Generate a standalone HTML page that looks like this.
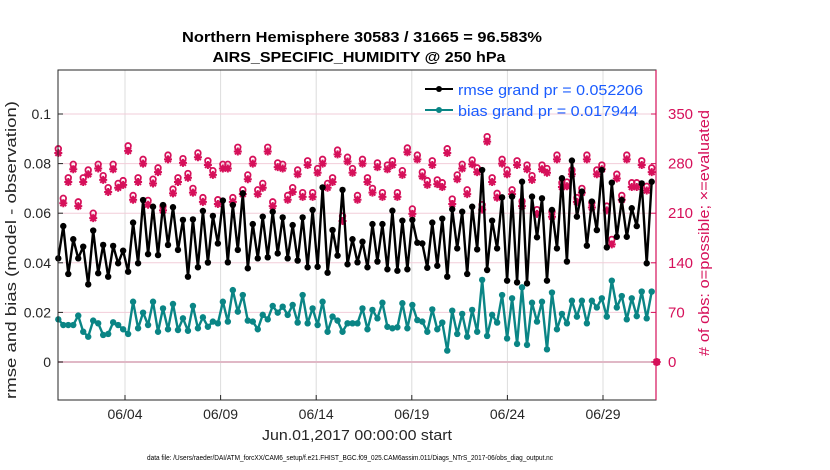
<!DOCTYPE html>
<html><head><meta charset="utf-8"><style>
body{margin:0;background:#fff;font-family:"Liberation Sans",Arial,sans-serif}
svg{display:block}
</style></head><body>
<svg id="chart" width="830" height="470" viewBox="0 0 830 470">
<text x="362" y="42" text-anchor="middle" font-size="15" font-weight="bold" textLength="360" lengthAdjust="spacingAndGlyphs">Northern Hemisphere 30583 / 31665 = 96.583%</text>
<text x="359" y="62" text-anchor="middle" font-size="15" font-weight="bold" textLength="293" lengthAdjust="spacingAndGlyphs">AIRS_SPECIFIC_HUMIDITY @ 250 hPa</text>
<rect x="58" y="70" width="598" height="330" fill="#fff"/>
<g id="grid"></g>
<g id="series"></g>
<rect x="58" y="70" width="598" height="330" fill="none" stroke="#262626" stroke-width="1"/>
<line x1="656" y1="70" x2="656" y2="400" stroke="#d6105a" stroke-width="1.2"/>
<g id="axes"></g>
<text transform="translate(16,250) rotate(-90)" text-anchor="middle" font-size="15" fill="#262626" textLength="298" lengthAdjust="spacingAndGlyphs">rmse and bias (model - observation)</text>
<text transform="translate(709,233) rotate(-90)" text-anchor="middle" font-size="15" fill="#d6105a" textLength="246" lengthAdjust="spacingAndGlyphs"># of obs: o=possible; ×=evaluated</text>
<text x="357" y="440" text-anchor="middle" font-size="15" fill="#262626" textLength="190" lengthAdjust="spacingAndGlyphs">Jun.01,2017 00:00:00 start</text>
<text x="350" y="460" text-anchor="middle" font-size="7" fill="#000" textLength="406" lengthAdjust="spacingAndGlyphs">data file: /Users/raeder/DAI/ATM_forcXX/CAM6_setup/f.e21.FHIST_BGC.f09_025.CAM6assim.011/Diags_NTrS_2017-06/obs_diag_output.nc</text>
<g>
<line x1="425" y1="89" x2="453" y2="89" stroke="#000" stroke-width="2"/>
<circle cx="439" cy="89" r="3" fill="#000"/>
<text x="458" y="95" font-size="15" fill="#1a5cff" textLength="185" lengthAdjust="spacingAndGlyphs">rmse grand pr = 0.052206</text>
<line x1="425" y1="110" x2="453" y2="110" stroke="#0a8585" stroke-width="2"/>
<circle cx="439" cy="110" r="3" fill="#0a8585"/>
<text x="458" y="116" font-size="15" fill="#1a5cff" textLength="180" lengthAdjust="spacingAndGlyphs">bias grand pr = 0.017944</text>
</g>
</svg>
<script>
const rmse=[0.0418,0.0548,0.0355,0.0495,0.0418,0.0465,0.0313,0.0530,0.0358,0.0472,0.0344,0.0468,0.0398,0.0449,0.0364,0.0562,0.0398,0.0653,0.0435,0.0626,0.0431,0.0633,0.0472,0.0624,0.0452,0.0573,0.0344,0.0575,0.0382,0.0609,0.0401,0.0589,
0.0478,0.0651,0.0402,0.0633,0.0452,0.0680,0.0378,0.0556,0.0418,0.0586,0.0422,0.0606,0.0438,0.0583,0.0418,0.0552,0.0409,0.0583,0.0382,0.0613,0.0384,0.0704,0.0360,0.0532,0.0429,0.0694,0.0394,0.0495,0.0402,0.0485,0.0382,
0.0556,0.0405,0.0556,0.0374,0.0610,0.0368,0.0570,0.0374,0.0573,0.0481,0.0478,0.0380,0.0562,0.0388,0.0578,0.0344,0.0616,0.0458,0.0606,0.0355,0.0626,0.0454,0.0774,0.0371,0.0570,0.0458,0.0664,0.0328,0.0667,
0.0321,0.0727,0.0317,0.0667,0.0503,0.0660,0.0328,0.0613,0.0458,0.0741,0.0405,0.0812,0.0586,0.0687,0.0469,0.0647,0.0532,0.0774,0.0462,0.0723,0.0505,0.0653,0.0505,0.0620,0.0548,0.0720,0.0398,0.0727];
const bias=[0.0172,0.0149,0.0149,0.0149,0.0187,0.0122,0.0102,0.0167,0.0156,0.0109,0.0113,0.0160,0.0149,0.0132,0.0113,0.0243,0.0136,0.0199,0.0149,0.0243,0.0122,0.0216,0.0132,0.0234,0.0129,0.0176,0.0126,0.0226,0.0136,0.0180,0.0142,0.0163,
0.0156,0.0243,0.0163,0.0290,0.0203,0.0270,0.0167,0.0163,0.0132,0.0190,0.0172,0.0226,0.0199,0.0223,0.0190,0.0230,0.0159,0.0270,0.0156,0.0216,0.0149,0.0243,0.0122,0.0183,0.0167,0.0122,0.0156,0.0156,0.0156,0.0216,0.0132,
0.0210,0.0176,0.0239,0.0142,0.0136,0.0140,0.0237,0.0136,0.0230,0.0169,0.0163,0.0122,0.0212,0.0132,0.0159,0.0046,0.0207,0.0113,0.0194,0.0102,0.0210,0.0122,0.0331,0.0105,0.0190,0.0159,0.0270,0.0095,0.0257,
0.0073,0.0301,0.0069,0.0239,0.0163,0.0243,0.0051,0.0280,0.0132,0.0194,0.0156,0.0247,0.0183,0.0247,0.0156,0.0247,0.0220,0.0257,0.0183,0.0328,0.0220,0.0266,0.0172,0.0257,0.0185,0.0284,0.0176,0.0284];
const evaluated=[295,224,254,272,220,254,265,203,273,257,240,272,246,250,298,229,254,280,222,252,268,214,286,238,254,281,260,239,289,226,278,264,
223,273,273,226,297,237,258,280,237,246,297,220,275,273,229,240,265,233,278,233,267,280,246,254,293,199,283,267,229,280,254,
239,275,233,272,278,233,264,296,209,286,262,250,278,251,247,295,223,258,273,237,279,268,215,311,254,232,280,265,237,
278,220,272,257,209,272,267,205,286,247,248,265,226,239,286,218,265,272,214,166,259,229,286,247,247,278,242,268,0];
const possible=[301,231,260,279,226,260,271,210,279,263,246,279,252,256,305,235,260,286,228,258,274,220,292,244,260,287,266,245,295,232,284,270,
229,279,279,232,303,243,264,286,243,252,303,226,281,279,235,246,271,239,284,239,273,286,252,260,299,206,289,273,235,286,260,
245,281,239,278,284,239,270,302,216,292,268,256,284,257,253,301,230,264,279,243,285,274,222,318,260,238,286,271,243,
284,227,278,263,215,278,273,212,292,253,254,271,232,245,292,225,271,278,220,173,265,235,292,253,253,284,248,274,0];
const tickDays=[3,8,13,18,23,28];
const tickLabels=["06/04","06/09","06/14","06/19","06/24","06/29"];
const leftTicks=[0,0.02,0.04,0.06,0.08,0.1];
const leftLabels=["0","0.02","0.04","0.06","0.08","0.1"];
const rightTicks=[0,70,140,210,280,350];

const NS="http://www.w3.org/2000/svg";
const X0=58,X1=656,Y0=70,Y1=400;
function xScale(d){return 125+(d-3)*19.12;}
function yL(v){return 362-v*2480;}
function yR(v){return 362-v*49.6/70;}
const d0=(58.3-125)/19.12+3, step=593.4/119/19.12;
function dayOf(i){return d0+i*step;}
function mk(tag,attrs,parent){const e=document.createElementNS(NS,tag);for(const k in attrs)e.setAttribute(k,attrs[k]);parent.appendChild(e);return e;}
const grid=document.getElementById('grid'),series=document.getElementById('series'),axes=document.getElementById('axes');

tickDays.forEach((d,i)=>{const x=xScale(d);
 const g=mk('line',{x1:x,y1:Y0,x2:x,y2:Y1,stroke:'#dcdcdc','stroke-width':1},grid);
 
 
 const t=mk('line',{x1:x,y1:Y1,x2:x,y2:Y1-5,stroke:'#262626'},axes);
 
 
 const l=mk('text',{x:x,y:Y1+19,'text-anchor':'middle','font-size':14,fill:'#262626'},axes);
 l.textContent=tickLabels[i];
 
 
});
leftTicks.forEach((v,i)=>{const y=yL(v);
 const g=mk('line',{x1:X0,y1:y,x2:X1,y2:y,stroke:'#f2cdd9','stroke-width':1},grid);
 
 
 const t=mk('line',{x1:X0,y1:y,x2:X0+5,y2:y,stroke:'#262626'},axes);
 
 
 const l=mk('text',{x:X0-7,y:y+5,'text-anchor':'end','font-size':14,fill:'#262626'},axes);
 l.textContent=leftLabels[i];
 
 
});
rightTicks.forEach(v=>{const y=yR(v);
 const t=mk('line',{x1:X1,y1:y,x2:X1-5,y2:y,stroke:'#d6105a'},axes);
 
 
 const l=mk('text',{x:X1+12,y:y+5,'font-size':15,fill:'#d6105a'},axes);
 l.textContent=String(v);
 
 
});
const zl=mk('line',{x1:X0,y1:yL(0),x2:X1,y2:yL(0),stroke:'#e0b8c6','stroke-width':2},grid);



possible.forEach((v,i)=>{const x=xScale(dayOf(i)),y=yR(v);
 const c=mk('circle',{cx:x,cy:y,r:2.8,fill:'none',stroke:'#d6105a','stroke-width':1.8},series);
 
 
});
evaluated.forEach((v,i)=>{const x=xScale(dayOf(i)),y=yR(v),r=4;
 const d=`M${x-r},${y}H${x+r}M${x},${y-r}V${y+r}M${x-2.9},${y-2.9}L${x+2.9},${y+2.9}M${x-2.9},${y+2.9}L${x+2.9},${y-2.9}`;
 const p=mk('path',{d:d,stroke:'#d6105a','stroke-width':2,fill:'none'},series);
 
 
});
function drawLine(arr,color,name){
 const pts=arr.map((v,i)=>xScale(dayOf(i)).toFixed(1)+','+yL(v).toFixed(1)).join(' ');
 const p=mk('polyline',{points:pts,fill:'none',stroke:color,'stroke-width':2.4,'stroke-linejoin':'round'},series);
 
 
 arr.forEach((v,i)=>{const c=mk('circle',{cx:xScale(dayOf(i)),cy:yL(v),r:3.2,fill:color},series);
  
  });
}
drawLine(bias,'#0a8585','bias');
drawLine(rmse,'#000000','rmse');
</script>
</body></html>
